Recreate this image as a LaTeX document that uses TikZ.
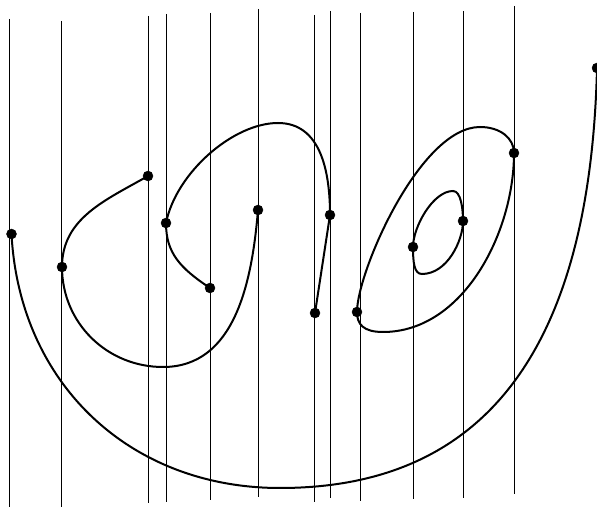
\documentclass[tikz,border=0pt]{standalone}
\usepackage{tikz}

\begin{document}
\begin{tikzpicture}[x=1pt, y=1pt,
    sweep/.style={line width=0.8pt},
    curve/.style={line width=2pt}]
  \useasboundingbox (0,0) rectangle (597,506);
  % points of the curve
  \coordinate (A) at (11.5,272);
  \coordinate (B) at (62,239);
  \coordinate (C) at (148,330);
  \coordinate (D) at (166,283);
  \coordinate (E) at (210,218);
  \coordinate (F) at (258,296);
  \coordinate (G) at (330,291);
  \coordinate (H) at (315,193);
  \coordinate (I) at (357,194);
  \coordinate (J) at (413,259);
  \coordinate (K) at (463,285);
  \coordinate (L) at (514,353);
  \coordinate (M) at (597,438);
  \coordinate (Ulow) at (280,18);
  \coordinate (Blow) at (163,139);
  \coordinate (Dtop) at (278,383);
  \coordinate (Itop) at (480,379);
  \coordinate (Ilow) at (383,174);
  \coordinate (Jtop) at (453,315);
  \coordinate (Jlow) at (422,232);
  % vertical lines
  \draw[sweep] (9,487) -- (9,-2);
  \draw[sweep] (61,485) -- (61,-2);
  \draw[sweep] (148,490) -- (148,3);
  \draw[sweep] (166,492) -- (166,4);
  \draw[sweep] (210,493) -- (210,6);
  \draw[sweep] (258,497) -- (258,9);
  \draw[sweep] (314,491) -- (314,4);
  \draw[sweep] (330,495) -- (330,8);
  \draw[sweep] (360,493) -- (360,5);
  \draw[sweep] (413,494) -- (413,7);
  \draw[sweep] (463,495) -- (463,8);
  \draw[sweep] (514,500) -- (514,12);
  % branches
  \draw[curve] (A) .. controls +(8,-150) and +(-150,0) .. (Ulow)
    .. controls +(200,0) and +(-7,-288) .. (M);
  \draw[curve] (C) .. controls +(-42,-24) and +(0,49) .. (B)
    .. controls +(0,-56) and +(-56,0) .. (Blow)
    .. controls +(72,0) and +(-6,-72) .. (F);
  \draw[curve] (E) .. controls +(-30,20) and +(0,-30) .. (D)
    .. controls +(10,50) and +(-45,0) .. (Dtop)
    .. controls +(43,0) and +(0,43) .. (G) -- (H);
  \draw[curve] (I) .. controls +(0,40) and +(-60,0) .. (Itop)
    .. controls +(20,0) and +(0,15) .. (L)
    .. controls +(0,-80) and +(80,0) .. (Ilow)
    .. controls +(-20,0) and +(0,-12) .. (I);
  \draw[curve] (J) .. controls +(0,20) and +(-20,0) .. (Jtop)
    .. controls +(8,0) and +(0,12) .. (K)
    .. controls +(0,-20) and +(25,0) .. (Jlow)
    .. controls +(-8,0) and +(0,-15) .. (J);
  % dots
  \filldraw (A) circle (5pt);
  \filldraw (B) circle (5pt);
  \filldraw (C) circle (5pt);
  \filldraw (D) circle (5pt);
  \filldraw (E) circle (5pt);
  \filldraw (F) circle (5pt);
  \filldraw (G) circle (5pt);
  \filldraw (H) circle (5pt);
  \filldraw (I) circle (5pt);
  \filldraw (J) circle (5pt);
  \filldraw (K) circle (5pt);
  \filldraw (L) circle (5pt);
  \filldraw (M) circle (5pt);
\end{tikzpicture}
\end{document}
